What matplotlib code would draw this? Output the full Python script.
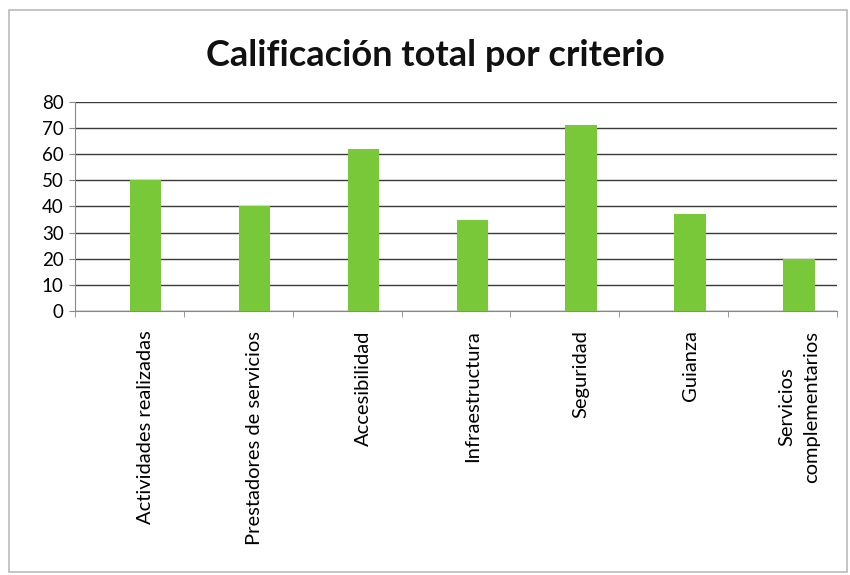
import matplotlib.pyplot as plt
from matplotlib.patches import Rectangle
import numpy as np

# calificación total por criterio
criterios = ['Actividades realizadas', 'Prestadores de servicios', 'Accesibilidad',
             'Infraestructura', 'Seguridad', 'Guianza', 'Servicios\ncomplementarios']
calificacion = [50, 40, 62, 35, 71, 37, 20]
yticks = [0, 10, 20, 30, 40, 50, 60, 70, 80]

plt.rcParams['font.family'] = ['Lato', 'DejaVu Sans']

fig = plt.figure(figsize=(8.5, 5.75), dpi=100)
ax = fig.add_axes([0.088, 0.459, 0.897, 0.364])

x = np.arange(len(criterios))
ax.bar(x, calificacion, width=0.29, color='#78c83a', zorder=3)

ax.set_xlim(-0.65, len(criterios) - 0.65)
ax.set_ylim(0, 80)
ax.set_yticks(yticks)
ax.yaxis.grid(True, color='#3a3a3a', linewidth=1.0, zorder=0)

# etiquetas centradas bajo cada barra, marcas entre categorías
ax.set_xticks(x)
ax.set_xticklabels(criterios, rotation=90, fontsize=14.5, va='top', ha='center',
                   multialignment='center', linespacing=1.55)
ax.tick_params(axis='x', length=0, pad=14)
ax.set_xticks(np.arange(len(criterios) + 1) - 0.65, minor=True)
ax.tick_params(axis='x', which='minor', length=4, color='#888888')
ax.tick_params(axis='y', labelsize=13.5, length=4, color='#888888', pad=4)

for side in ['top', 'right']:
    ax.spines[side].set_visible(False)
ax.spines['left'].set_color('#888888')
ax.spines['bottom'].set_color('#888888')

fig.text(0.512, 0.903, 'Calificación total por criterio', ha='center', va='center',
         fontsize=26, fontweight='bold', color='#111111')

# marco del gráfico
fig.patches.append(Rectangle((0.011, 0.005), 0.986, 0.978, transform=fig.transFigure,
                             fill=False, edgecolor='#bbbbbb', linewidth=1.2))

fig.savefig('out.png', dpi=100)
